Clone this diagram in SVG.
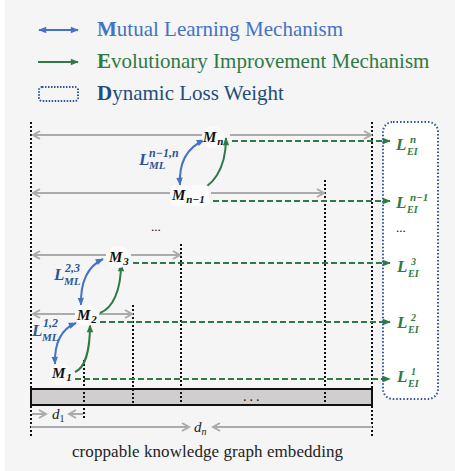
<svg xmlns="http://www.w3.org/2000/svg" width="455" height="471" viewBox="0 0 455 471">
<defs>
<style>
.gray{stroke:#ABABAB;stroke-width:2;fill:none}
.gdash{stroke:#2E7A45;stroke-width:2;stroke-dasharray:6 3;fill:none}
.vdot{stroke:#111;stroke-width:2;stroke-dasharray:2 2;fill:none}
.blue{stroke:#4472C4;stroke-width:2;fill:none}
.green{stroke:#2E7A45;stroke-width:2;fill:none}
.leg{font-family:"Liberation Serif",serif;font-size:21px}
.m{font-family:"Liberation Serif",serif;font-style:italic;font-weight:bold;fill:#111}
.lei{font-family:"Liberation Serif",serif;font-style:italic;font-weight:bold;fill:#2E7A45}
.lml{font-family:"Liberation Serif",serif;font-style:italic;font-weight:bold;fill:#2F5597}
.nbg{fill:#fbfbfb}
.d{font-family:"Liberation Serif",serif;font-style:italic;fill:#222}
</style>
<marker id="gh" viewBox="0 0 10 10" refX="8" refY="5" markerWidth="10" markerHeight="10" markerUnits="userSpaceOnUse" orient="auto-start-reverse">
<path d="M1,1 L8,5 L1,9" stroke="#ABABAB" stroke-width="2" fill="none"/>
</marker>
<marker id="grh" viewBox="0 0 10 10" refX="9" refY="5" markerWidth="9" markerHeight="8" markerUnits="userSpaceOnUse" orient="auto-start-reverse">
<path d="M0,1 L10,5 L0,9 Z" fill="#2E7A45"/>
</marker>
<marker id="bh" viewBox="0 0 10 10" refX="9" refY="5" markerWidth="9" markerHeight="8" markerUnits="userSpaceOnUse" orient="auto-start-reverse">
<path d="M0,1 L10,5 L0,9 Z" fill="#4472C4"/>
</marker>
</defs>
<rect x="0" y="0" width="455" height="471" fill="#ffffff"/>
<rect x="5" y="0" width="450" height="471" fill="#f5f5f5"/>

<g id="legend">
<line x1="39" y1="30" x2="78" y2="30" class="blue" marker-start="url(#bh)" marker-end="url(#bh)"/>
<text x="97" y="36" class="leg" fill="#4472C4"><tspan font-weight="bold">M</tspan>utual Learning Mechanism</text>
<line x1="38" y1="62" x2="78" y2="62" class="green" marker-end="url(#grh)"/>
<text x="97" y="68" class="leg" fill="#2E7A45"><tspan font-weight="bold">E</tspan>volutionary Improvement Mechanism</text>
<rect x="39" y="87" width="39" height="14" rx="3" fill="none" stroke="#2F5597" stroke-width="2" stroke-dasharray="1.5 1.5"/>
<text x="97" y="100" class="leg" fill="#1F4E79"><tspan font-weight="bold">D</tspan>ynamic Loss Weight</text>
</g>

<g id="embedding">
<rect x="31" y="389" width="341" height="16" fill="#D0CECE" stroke="#111" stroke-width="2"/>
<text x="243" y="401" font-family="Liberation Serif,serif" font-size="14" fill="#111" letter-spacing="3">...</text>
</g>

<g id="loss-weight">
<rect x="383" y="122" width="55" height="277" rx="10" fill="#ffffff" stroke="#2F5597" stroke-width="2" stroke-dasharray="1.5 2"/>
</g>

<g id="connectors">
<line x1="31" y1="122" x2="31" y2="438" class="vdot"/>
<line x1="372" y1="122" x2="372" y2="436" class="vdot"/>
<line x1="325" y1="180" x2="325" y2="404" class="vdot"/>
<line x1="181" y1="244" x2="181" y2="404" class="vdot"/>
<line x1="133" y1="305" x2="133" y2="404" class="vdot"/>
<line x1="84" y1="360" x2="84" y2="420" class="vdot"/>
<line x1="202" y1="135" x2="33" y2="135" class="gray" marker-end="url(#gh)"/>
<line x1="230" y1="135" x2="371" y2="135" class="gray" marker-end="url(#gh)"/>
<line x1="170" y1="193" x2="33" y2="193" class="gray" marker-end="url(#gh)"/>
<line x1="211" y1="193" x2="324" y2="193" class="gray" marker-end="url(#gh)"/>
<line x1="106" y1="255" x2="33" y2="255" class="gray" marker-end="url(#gh)"/>
<line x1="131" y1="255" x2="180" y2="255" class="gray" marker-end="url(#gh)"/>
<line x1="75" y1="314" x2="33" y2="314" class="gray" marker-end="url(#gh)"/>
<line x1="99" y1="314" x2="132" y2="314" class="gray" marker-end="url(#gh)"/>
<line x1="232" y1="141" x2="390" y2="141" class="gdash" marker-end="url(#grh)"/>
<line x1="213" y1="201" x2="390" y2="201" class="gdash" marker-end="url(#grh)"/>
<line x1="133" y1="263" x2="390" y2="263" class="gdash" marker-end="url(#grh)"/>
<line x1="100" y1="322" x2="390" y2="322" class="gdash" marker-end="url(#grh)"/>
<line x1="75" y1="379" x2="390" y2="379" class="gdash" marker-end="url(#grh)"/>
<path d="M180 185 Q178 152 204 140" class="blue" marker-start="url(#bh)" marker-end="url(#bh)"/>
<path d="M81 305 Q80 270 103 259" class="blue" marker-start="url(#bh)" marker-end="url(#bh)"/>
<path d="M55 364 Q54 332 76 323" class="blue" marker-start="url(#bh)" marker-end="url(#bh)"/>
<path d="M194 192 C212 188 226 170 226 138" class="green" marker-end="url(#grh)"/>
<path d="M100 313 C113 308 121 290 121 264" class="green" marker-end="url(#grh)"/>
<path d="M75 372 C85 368 90 350 90 325" class="green" marker-end="url(#grh)"/>
<line x1="32" y1="414" x2="46" y2="414" class="gray" marker-end="url(#gh)"/>
<line x1="83" y1="414" x2="69" y2="414" class="gray" marker-end="url(#gh)"/>
<line x1="31" y1="427" x2="189" y2="427" class="gray" marker-end="url(#gh)"/>
<line x1="372" y1="427" x2="213" y2="427" class="gray" marker-end="url(#gh)"/>
</g>

<g id="node-Mn">
<circle cx="213" cy="137" r="11" class="nbg"/>
<text x="203" y="142" class="m" font-size="15">M<tspan font-size="11" dx="1" dy="3">n</tspan></text>
</g>
<g id="node-Mn-1">
<rect x="171" y="185" width="38" height="21" rx="4" class="nbg"/>
<text x="172" y="200" class="m" font-size="15">M<tspan font-size="11" dx="1" dy="3">n−1</tspan></text>
</g>
<g id="node-M3">
<circle cx="118" cy="257" r="11" class="nbg"/>
<text x="109" y="262" class="m" font-size="15">M<tspan font-size="11" dx="1" dy="3">3</tspan></text>
</g>
<g id="node-M2">
<circle cx="86" cy="315" r="11" class="nbg"/>
<text x="77" y="320" class="m" font-size="15">M<tspan font-size="11" dx="1" dy="3">2</tspan></text>
</g>
<g id="node-M1">
<circle cx="61" cy="374" r="11" class="nbg"/>
<text x="52" y="378" class="m" font-size="15">M<tspan font-size="11" dx="1" dy="3">1</tspan></text>
</g>

<g id="ml-labels">
<text x="139" y="165" class="lml" font-size="17">L</text>
<text x="149" y="157" class="lml" font-size="12">n−1,n</text>
<text x="149" y="169" class="lml" font-size="11">ML</text>
<text x="54" y="280" class="lml" font-size="17">L</text>
<text x="65" y="272" class="lml" font-size="12">2,3</text>
<text x="64" y="285" class="lml" font-size="11">ML</text>
<text x="32" y="336" class="lml" font-size="17">L</text>
<text x="43" y="327" class="lml" font-size="12">1,2</text>
<text x="42" y="341" class="lml" font-size="11">ML</text>
</g>

<g id="ei-labels">
<text x="396" y="150" class="lei" font-size="17">L</text>
<text x="410" y="143" class="lei" font-size="11">n</text>
<text x="407" y="155" class="lei" font-size="10">EI</text>
<text x="396" y="208" class="lei" font-size="17">L</text>
<text x="410" y="201" class="lei" font-size="11">n−1</text>
<text x="407" y="213" class="lei" font-size="10">EI</text>
<text x="396" y="232" font-family="Liberation Serif,serif" font-size="13" fill="#111">...</text>
<text x="397" y="272" class="lei" font-size="17">L</text>
<text x="411" y="265" class="lei" font-size="10">3</text>
<text x="408" y="277" class="lei" font-size="10">EI</text>
<text x="397" y="328" class="lei" font-size="17">L</text>
<text x="411" y="321" class="lei" font-size="10">2</text>
<text x="408" y="333" class="lei" font-size="10">EI</text>
<text x="397" y="382" class="lei" font-size="17">L</text>
<text x="411" y="375" class="lei" font-size="10">1</text>
<text x="408" y="387" class="lei" font-size="10">EI</text>
</g>

<text x="151" y="231" font-family="Liberation Serif,serif" font-size="13" fill="#111">...</text>

<g id="dims">
<text x="52" y="419" class="d" font-size="15">d<tspan font-size="10" font-style="normal" dy="3">1</tspan></text>
<text x="194" y="432" class="d" font-size="15">d<tspan font-size="10" dy="3">n</tspan></text>
</g>

<text x="72" y="457" font-family="Liberation Serif,serif" font-size="17" fill="#222" textLength="271">croppable knowledge graph embedding</text>
</svg>
